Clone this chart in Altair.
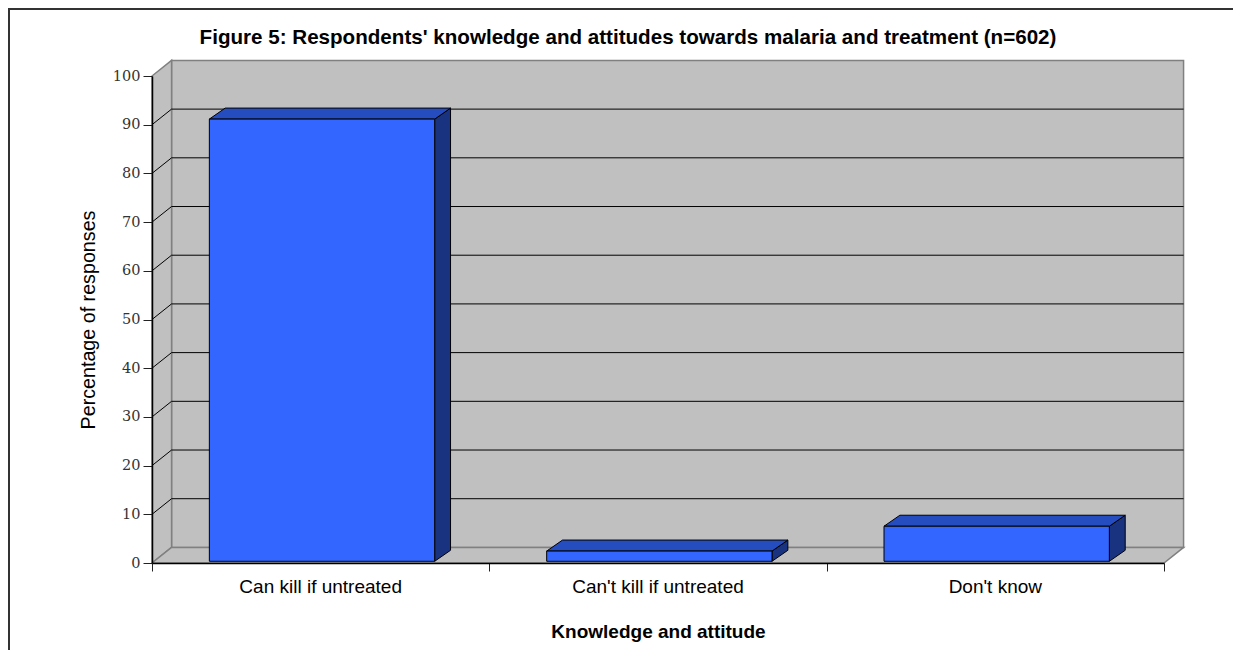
import altair as alt
import pandas as pd

categories = ["Can kill if untreated", "Can't kill if untreated", "Don't know"]
values = [90.8, 2.1, 7.2]
y_ticks = [0, 10, 20, 30, 40, 50, 60, 70, 80, 90, 100]
x_ticks = [0, 1, 2, 3]
grid_levels = [10, 20, 30, 40, 50, 60, 70, 80, 90]

TITLE = "Figure 5: Respondents' knowledge and attitudes towards malaria and treatment (n=602)"
SANS = "Liberation Sans"
SERIF = "DejaVu Serif"
WALL = "#C0C0C0"
WALL_LINE = "#808080"
FRONT = "#3366FF"
TOP = "#264DBF"
SIDE = "#1A3380"

# 3-D depth, expressed in data units
DX, DY = 0.058, 3.2          # wall depth
BX, BY = 0.047, 2.26         # bar depth
B0, B1, BASE = 0.17, 0.838, 0.35

xs = alt.Scale(domain=[0, 3], nice=False, zero=False)
ys = alt.Scale(domain=[0, 100], nice=False, zero=False)
x_axis = alt.Axis(
    values=x_ticks, labels=False, grid=False, tickSize=8, tickColor="#222222", domainColor="black",
    domainWidth=1.5, tickWidth=1, title="Knowledge and attitude", titleFont=SANS, titleFontSize=19,
    titleFontWeight="bold", titleColor="black", titlePadding=51, zindex=1)
y_axis = alt.Axis(
    values=y_ticks, grid=False, tickSize=9, tickColor="#222222", domainColor="black", domainWidth=1.5,
    tickWidth=1, labelFont=SERIF, labelFontSize=14.5, labelColor="#333333", labelPadding=3,
    title="Percentage of responses", titleFont=SANS, titleFontSize=19.7, titleFontWeight="normal",
    titleColor="black", titlePadding=14, zindex=1)
X = lambda f: alt.X(f, type="quantitative", scale=xs, axis=x_axis)
Y = lambda f: alt.Y(f, type="quantitative", scale=ys, axis=y_axis)

# walls
back = pd.DataFrame([{"x": DX, "x2": 3 + DX, "y": DY, "y2": 100 + DY}])
left = pd.DataFrame([{"x": 0, "y": 0, "y2": 100}, {"x": DX, "y": DY, "y2": 100 + DY}])
floor = pd.DataFrame([{"y": 0, "x": 0, "x2": 3}, {"y": DY, "x": DX, "x2": 3 + DX}])

wall_back = alt.Chart(back).mark_rect(fill=WALL, stroke=WALL_LINE, strokeWidth=1.5).encode(
    x=X("x"), x2="x2", y=Y("y"), y2="y2")
wall_left = alt.Chart(left).mark_area(fill=WALL, stroke=WALL_LINE, strokeWidth=1.5, orient="vertical").encode(
    x=X("x"), y=Y("y"), y2="y2")
wall_floor = alt.Chart(floor).mark_area(fill=WALL, stroke=WALL_LINE, strokeWidth=1.5, orient="horizontal").encode(
    y=Y("y"), x=X("x"), x2="x2")

# gridlines on back wall and left wall
grid = pd.DataFrame({"v": grid_levels})
grid["yb"] = grid["v"] + DY
grid["xb"] = DX
grid["xe"] = 3 + DX
grid["x0"] = 0
grid_back = alt.Chart(grid).mark_rule(color="black", strokeWidth=1).encode(x=X("xb"), x2="xe", y=Y("yb"))
grid_side = alt.Chart(grid).mark_rule(color="black", strokeWidth=1).encode(x=X("x0"), x2="xb", y=Y("v"), y2="yb")

# bars
front_rows, top_rows, side_rows, label_rows = [], [], [], []
for i, (c, v) in enumerate(zip(categories, values)):
    lo, hi = i + B0, i + B1
    top_y = BASE + v
    front_rows.append({"cat": c, "lo": lo, "hi": hi, "base": BASE, "top": top_y})
    top_rows += [{"cat": c, "y": top_y, "x": lo, "x2": hi},
                 {"cat": c, "y": top_y + BY, "x": lo + BX, "x2": hi + BX}]
    side_rows += [{"cat": c, "x": hi, "y": BASE, "y2": top_y},
                  {"cat": c, "x": hi + BX, "y": BASE + BY, "y2": top_y + BY}]
    label_rows.append({"cat": c, "x": i + 0.5, "y": -5})

bar_side = alt.Chart(pd.DataFrame(side_rows)).mark_area(fill=SIDE, stroke="black", strokeWidth=1, orient="vertical").encode(
    x=X("x"), y=Y("y"), y2="y2", detail="cat:N")
bar_top = alt.Chart(pd.DataFrame(top_rows)).mark_area(fill=TOP, stroke="black", strokeWidth=1, orient="horizontal").encode(
    y=Y("y"), x=X("x"), x2="x2", detail="cat:N")
bar_front = alt.Chart(pd.DataFrame(front_rows)).mark_rect(fill=FRONT, stroke="black", strokeWidth=1).encode(
    x=X("lo"), x2="hi", y=Y("base"), y2="top")

labels = alt.Chart(pd.DataFrame(label_rows)).mark_text(font=SANS, fontSize=19, color="black", baseline="middle").encode(
    x=X("x"), y=Y("y"), text="cat:N")

# outer frame of the figure
frame_top = alt.Chart(pd.DataFrame({"a": [0]})).mark_rule(color="#333333", strokeWidth=2).encode(
    x=alt.value(-144), x2=alt.value(1081), y=alt.value(-67))
frame_left = alt.Chart(pd.DataFrame({"a": [0]})).mark_rule(color="#333333", strokeWidth=2).encode(
    x=alt.value(-143), y=alt.value(-68), y2=alt.value(574))

chart = alt.layer(
    wall_back, wall_left, wall_floor, grid_back, grid_side,
    bar_side, bar_top, bar_front, labels, frame_top, frame_left,
).properties(
    width=1012, height=487,
    padding={"left": 144, "top": 68, "right": 69, "bottom": 87},
    autosize=alt.AutoSizeParams(type="none"),
    title=alt.TitleParams(TITLE, font=SANS, fontSize=20.6, fontWeight="bold", color="black",
                          anchor="middle", frame="group", dx=-30, offset=-42),
).configure_view(stroke=None).configure(background="white")

chart.save("out.html", embed_options={"renderer": "svg", "actions": False})
